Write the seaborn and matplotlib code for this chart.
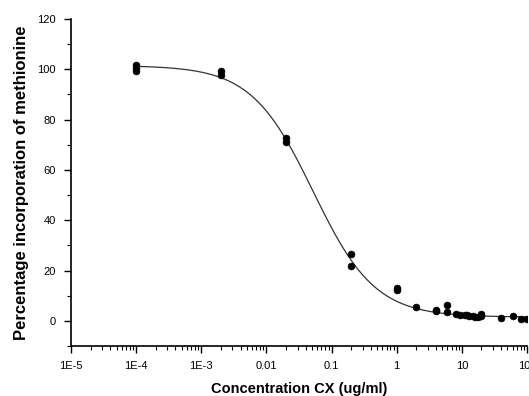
import numpy as np
import pandas as pd
import matplotlib
matplotlib.use("Agg")
import matplotlib.pyplot as plt
from matplotlib.ticker import FixedLocator, FixedFormatter, MultipleLocator, LogLocator, NullFormatter
import seaborn as sns

conc = [1e-4, 1e-4, 1e-4, 2e-3, 2e-3, 0.02, 0.02, 0.2, 0.2, 1, 1, 2, 4, 4, 6, 6,
        8, 9.5, 11, 12, 13, 15, 16, 18, 20, 20, 40, 60, 80, 100]
pct = [99.2, 100.5, 101.6, 97.8, 99.2, 71.0, 72.5, 26.7, 22.0, 12.3, 13.0, 5.6, 4.0, 4.2, 6.3, 3.4,
       2.7, 2.5, 2.3, 2.2, 1.9, 1.8, 1.6, 1.7, 2.0, 2.9, 1.3, 2.0, 0.8, 0.8]

# four-parameter logistic fit
fit_top = 101.5
fit_bottom = 1.5
fit_ic50 = 0.052
fit_hill = 0.915

xtick_vals = [1e-5, 1e-4, 1e-3, 1e-2, 1e-1, 1, 10, 100]
xtick_labels = ["1E-5", "1E-4", "1E-3", "0.01", "0.1", "1", "10", "100"]
ytick_vals = [0, 20, 40, 60, 80, 100, 120]

df = pd.DataFrame({"conc": conc, "pct": pct})
xs = np.logspace(-4, 2, 300)
curve = pd.DataFrame({"conc": xs,
                      "pct": fit_bottom + (fit_top - fit_bottom) / (1 + (xs / fit_ic50) ** fit_hill)})

sns.set_style("ticks")
plt.rcParams["font.family"] = ["Liberation Sans", "DejaVu Sans"]

fig = plt.figure(figsize=(5.29, 3.96), dpi=100)
ax = fig.add_axes([71 / 529, 50 / 396, 456 / 529, 327 / 396])

sns.lineplot(data=curve, x="conc", y="pct", ax=ax, color="#333333", linewidth=0.9)
sns.scatterplot(data=df, x="conc", y="pct", ax=ax, color="black", s=24, edgecolor="black", linewidth=0.5, zorder=3)

ax.set_xscale("log")
ax.set_xlim(1e-5, 100)
ax.set_ylim(-10, 120)

ax.xaxis.set_major_locator(FixedLocator(xtick_vals))
ax.xaxis.set_major_formatter(FixedFormatter(xtick_labels))
ax.xaxis.set_minor_locator(LogLocator(base=10, subs=np.arange(2, 10), numticks=20))
ax.xaxis.set_minor_formatter(NullFormatter())
ax.yaxis.set_major_locator(FixedLocator(ytick_vals))
ax.yaxis.set_minor_locator(MultipleLocator(10))

ax.tick_params(which="major", length=5, width=1.0, labelsize=8, colors="black", pad=6)
ax.tick_params(which="minor", length=3, width=0.8, colors="black")

sns.despine(ax=ax)
for s in ["left", "bottom"]:
    ax.spines[s].set_linewidth(1.2)
    ax.spines[s].set_color("black")

ax.set_xlabel("Concentration CX (ug/ml)", fontsize=10.5, fontweight="bold", color="black", labelpad=8)
ax.set_ylabel("Percentage incorporation of methionine", fontsize=12, fontweight="bold", color="black", labelpad=6)

fig.savefig("out.png", dpi=100)
